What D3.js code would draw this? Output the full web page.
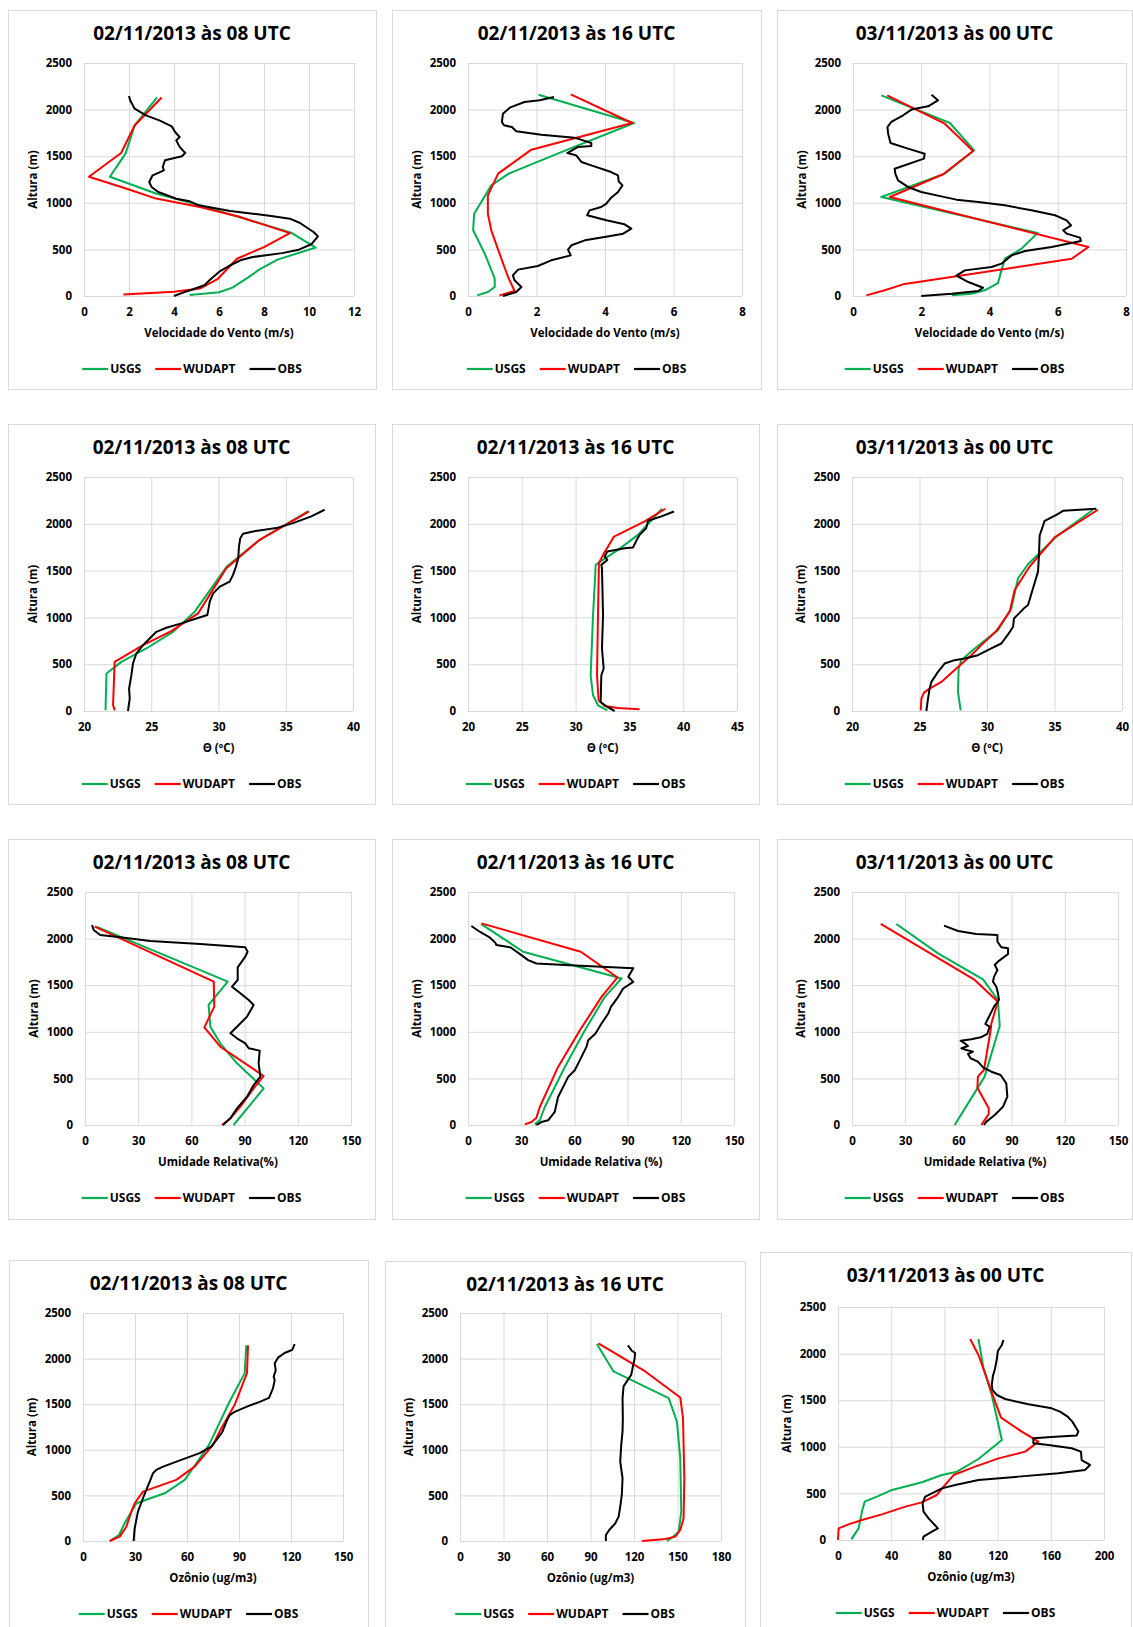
<!DOCTYPE html>
<html>
<head>
<meta charset="utf-8">
<script src="https://cdn.jsdelivr.net/npm/d3@7"></script>
<style>
    body { margin: 0; background: #ffffff; }
    svg text { font-family: "Open Sans", "DejaVu Sans", sans-serif; font-weight: bold; fill: #000; }
</style>
</head>
<body>
<svg id="chart" width="1133" height="1627"></svg>
<script>
// ---- labels / ticks ----
var titles = ["02/11/2013 às 08 UTC", "02/11/2013 às 16 UTC", "03/11/2013 às 00 UTC"];
var seriesNames = ["USGS", "WUDAPT", "OBS"];
var heightTicks = [0, 500, 1000, 1500, 2000, 2500];
var windTicks12 = [0, 2, 4, 6, 8, 10, 12];
var windTicks8 = [0, 2, 4, 6, 8];
var thetaTicks40 = [20, 25, 30, 35, 40];
var thetaTicks45 = [20, 25, 30, 35, 40, 45];
var rhTicks = [0, 30, 60, 90, 120, 150];
var o3Ticks150 = [0, 30, 60, 90, 120, 150];
var o3Ticks180 = [0, 30, 60, 90, 120, 150, 180];
var o3Ticks200 = [0, 40, 80, 120, 160, 200];

// ---- wind speed (m/s), [value, height m] ----
var windUsgs08 = [[4.7,10],[6.0,40],[6.6,90],[7.3,200],[7.8,285],[8.6,390],[10.3,520],[9.2,680],[5.2,970],[3.2,1100],[1.15,1280],[1.85,1530],[2.25,1830],[3.25,2130]];
var windWudapt08 = [[1.75,15],[4.0,45],[5.15,80],[5.95,185],[6.8,400],[8.0,525],[9.15,675],[6.9,850],[5.15,955],[3.2,1045],[1.9,1150],[0.22,1280],[1.65,1535],[2.25,1830],[3.45,2130]];
var windObs08 = [[4.0,0],[4.4,36],[4.85,72],[5.35,115],[5.6,175],[6.05,268],[6.5,330],[6.95,383],[7.5,418],[8.8,460],[9.55,497],[10.1,555],[10.4,640],[10.2,687],[9.6,783],[9.15,830],[8.4,855],[7.5,883],[6.5,912],[5.1,973],[4.7,1016],[4.1,1044],[3.3,1116],[3.0,1170],[2.9,1223],[3.05,1295],[3.55,1348],[3.5,1384],[3.6,1456],[4.35,1500],[4.5,1534],[4.25,1600],[4.1,1670],[4.25,1706],[4.05,1760],[3.9,1820],[3.35,1885],[2.75,1938],[2.25,2010],[2.05,2100],[2.0,2146]];

var windUsgs16 = [[0.27,7],[0.58,43],[0.78,97],[0.78,186],[0.49,454],[0.15,705],[0.18,883],[0.68,1187],[1.19,1313],[2.85,1563],[4.85,1856],[2.06,2160]];
var windWudapt16 = [[0.92,7],[1.36,54],[1.17,204],[0.92,454],[0.68,705],[0.58,883],[0.58,1080],[0.88,1313],[1.85,1570],[4.79,1856],[3.0,2164]];
var windObs16 = [[1.02,0],[1.41,43],[1.56,97],[1.36,168],[1.31,222],[1.46,283],[2.04,322],[2.43,383],[3.0,436],[2.92,497],[3.02,544],[3.41,597],[3.99,633],[4.53,669],[4.77,722],[4.57,769],[4.04,812],[3.48,866],[3.55,919],[3.89,955],[4.04,991],[4.18,1055],[4.38,1116],[4.51,1187],[4.4,1230],[4.38,1295],[4.18,1330],[3.6,1402],[3.31,1438],[3.16,1509],[2.9,1534],[3.21,1599],[3.6,1609],[3.6,1642],[3.11,1699],[2.14,1731],[1.41,1767],[1.28,1813],[1.05,1831],[0.99,1867],[1.02,1956],[1.22,2021],[1.65,2081],[2.09,2100],[2.51,2135]];

var windUsgs00 = [[2.9,7],[3.47,25],[3.86,61],[4.25,139],[4.35,275],[4.45,400],[4.94,508],[5.41,676],[0.83,1062],[2.69,1313],[3.55,1563],[2.84,1856],[0.83,2153]];
var windWudapt00 = [[0.39,7],[0.93,61],[1.47,125],[6.41,400],[6.9,526],[1.08,1062],[2.64,1306],[3.52,1556],[2.69,1849],[1.0,2153]];
var windObs00 = [[2.0,0],[2.89,25],[3.67,54],[3.81,89],[3.38,150],[3.03,218],[3.28,275],[4.06,311],[4.35,347],[4.65,436],[5.04,483],[5.82,526],[6.68,590],[6.65,626],[6.26,669],[6.16,705],[6.39,758],[6.26,812],[5.92,866],[5.23,919],[4.45,973],[3.67,1009],[3.03,1034],[2.59,1069],[2.0,1116],[1.61,1170],[1.32,1241],[1.24,1313],[1.22,1366],[2.08,1474],[2.1,1527],[1.61,1581],[1.1,1642],[1.03,1742],[1.01,1813],[1.12,1867],[1.47,1939],[1.71,2000],[2.2,2035],[2.49,2100],[2.3,2160]];

// ---- potential temperature (ºC) ----
var thetaUsgs08 = [[21.6,7],[21.67,400],[22.78,525],[24.63,668],[26.62,846],[28.23,1061],[30.6,1540],[33.06,1829],[36.65,2132]];
var thetaWudapt08 = [[22.3,7],[22.16,61],[22.28,525],[24.39,704],[26.49,854],[28.48,1043],[30.58,1525],[33.06,1829],[36.73,2132]];
var thetaObs08 = [[23.27,0],[23.4,132],[23.35,239],[23.52,382],[23.64,507],[23.89,614],[24.39,704],[24.88,775],[25.38,846],[26.12,889],[27.24,936],[28.35,989],[29.17,1025],[29.35,1168],[29.6,1257],[30.1,1329],[30.83,1382],[31.08,1454],[31.3,1543],[31.47,1632],[31.52,1757],[31.62,1846],[31.82,1893],[32.57,1918],[34.3,1954],[35.54,2007],[36.9,2079],[37.89,2150]];

var thetaUsgs16 = [[32.95,7],[32.08,61],[31.62,168],[31.4,382],[31.62,1025],[31.87,1561],[32.08,1579],[33.94,1721],[35.8,1882],[38.03,2161]];
var thetaWudapt16 = [[35.95,18],[33.94,32],[32.7,54],[32.14,114],[31.99,382],[32.08,1025],[32.17,1579],[32.55,1668],[33.57,1864],[36.42,2025],[38.34,2161]];
var thetaObs16 = [[33.63,0],[32.95,43],[32.33,96],[32.39,382],[32.61,454],[32.45,668],[32.55,1025],[32.45,1525],[32.39,1561],[32.95,1614],[32.7,1650],[32.95,1704],[33.32,1711],[34.56,1739],[35.33,1746],[35.64,1818],[35.95,1882],[36.57,1954],[36.73,2032],[37.97,2079],[39.14,2132]];

var thetaUsgs00 = [[28.05,7],[27.85,204],[27.9,454],[28.1,543],[29.09,668],[30.81,864],[31.8,1096],[32.3,1418],[33.04,1568],[35.14,1864],[37.85,2150]];
var thetaWudapt00 = [[25.09,7],[25.14,132],[25.33,196],[25.75,239],[26.62,311],[27.85,471],[28.84,596],[29.58,704],[30.69,854],[31.68,1061],[32.05,1293],[33.16,1543],[35.01,1854],[38.22,2150]];
var thetaObs00 = [[25.51,0],[25.63,132],[25.75,239],[25.88,311],[26.37,418],[26.86,507],[27.6,543],[28.35,561],[29.33,596],[30.32,668],[31.06,721],[31.56,818],[31.93,900],[32.0,989],[32.3,1032],[32.79,1104],[33.04,1132],[33.41,1311],[33.78,1489],[33.85,1668],[33.9,1875],[34.27,2032],[35.14,2096],[35.63,2139],[38.1,2161]];

// ---- relative humidity (%) ----
var rhUsgs08 = [[83.8,0],[100.75,393],[85.7,662],[76.3,876],[70.7,1055],[69.7,1288],[80.5,1538],[6.4,2128]];
var rhWudapt08 = [[77.3,0],[82,72],[87.6,197],[95.1,393],[100.75,526],[76.3,840],[67.3,1048],[72.9,1270],[72.6,1538],[5.5,2128]];
var rhObs08 = [[77.8,0],[82,72],[85.7,179],[91.4,304],[95.1,429],[98.9,519],[97.9,662],[98.5,798],[92.3,823],[90.4,876],[85.7,930],[82,984],[86.7,1073],[91.4,1163],[95.1,1288],[92.3,1341],[87.6,1413],[82.9,1484],[86.1,1556],[86.1,1692],[90.4,1806],[91.7,1860],[90.4,1906],[65,1942],[36.8,1974],[19.9,2014],[8.6,2039],[4.9,2093],[3.95,2146]];

var rhUsgs16 = [[37.6,7],[40.5,50],[43.3,193],[54.6,623],[65.9,1017],[77.2,1375],[86.6,1572],[31.1,1859],[7.5,2156]];
var rhWudapt16 = [[32,7],[35.8,32],[38.6,79],[40.5,193],[50.8,623],[63.1,1017],[75.3,1375],[84.3,1583],[63.6,1859],[7.5,2163]];
var rhObs16 = [[38.6,0],[41.4,32],[45.2,50],[48.9,140],[50.8,301],[54.6,444],[56.5,516],[60.2,587],[62.1,659],[64,731],[66.8,838],[67.8,910],[71.9,981],[75.3,1089],[79.1,1196],[80.6,1268],[84.7,1375],[87.5,1465],[93.2,1536],[90.4,1590],[93.2,1683],[54.6,1716],[38.6,1733],[33.9,1769],[30.1,1823],[24.1,1905],[16,1931],[15.4,1956],[12.2,2013],[6.6,2074],[1.9,2135]];

var rhUsgs00 = [[57.9,0],[74.8,519],[83.3,1062],[82.3,1341],[73.9,1563],[48.5,1842],[25,2157]];
var rhWudapt00 = [[72.9,0],[77.1,118],[77.1,179],[70.7,400],[71,519],[74.4,590],[78.2,1019],[78.6,1091],[82.3,1323],[69.2,1556],[16.2,2157]];
var rhObs00 = [[74.4,0],[75.8,36],[80.5,107],[85.2,197],[87.6,304],[87,447],[83.8,537],[78.6,572],[73.9,619],[71,680],[66.9,716],[65.4,762],[68.2,787],[64.5,805],[61.7,823],[65.4,848],[63.5,877],[61.3,905],[67.3,919],[72.6,941],[76.3,977],[77.6,1055],[75.2,1084],[76.3,1127],[78.2,1198],[80.1,1270],[82.9,1341],[82.3,1413],[81.4,1484],[79.5,1538],[80.1,1592],[82,1663],[80.5,1717],[82.3,1753],[88,1835],[88,1896],[84.2,1907],[82,1967],[82,2039],[70.1,2050],[59.8,2082],[51.9,2139]];

// ---- ozone (ug/m3) ----
var o3Usgs08 = [[15.4,0],[20.8,66],[24,194],[27.9,322],[30.8,414],[47.1,523],[58.7,670],[65.4,853],[72.7,1054],[84.6,1530],[93.3,1841],[94.2,2145]];
var o3Wudapt08 = [[15.4,0],[21.2,48],[25,157],[27.9,322],[29.8,414],[34.6,542],[53.8,670],[64.4,816],[75,1054],[78.8,1200],[87.5,1493],[94.6,1841],[95.2,2145]];
var o3Obs08 = [[29.2,0],[29.8,139],[31.7,322],[34.6,469],[36.5,560],[38.5,652],[40.4,743],[42.3,780],[46.2,816],[56.7,890],[67.3,963],[74,1036],[76.9,1105],[80.4,1197],[82.7,1307],[84.6,1380],[87.5,1416],[94.2,1471],[101.9,1526],[107.3,1570],[109.6,1673],[110.6,1764],[110,1801],[111.2,1874],[110.6,1948],[112.5,2010],[116.3,2061],[120.8,2097],[122.1,2160]];

var o3Usgs16 = [[142.7,0],[146.2,37],[150.8,102],[152.6,322],[151.9,908],[149.6,1310],[143.9,1567],[105.9,1859],[94.4,2160]];
var o3Wudapt16 = [[125.5,0],[141.6,22],[148.5,48],[151.9,121],[154.2,249],[154.7,688],[153.8,1347],[151.9,1574],[127.8,1859],[95.5,2167]];
var o3Obs16 = [[100.6,0],[100.6,66],[102.9,121],[107.1,194],[109.4,267],[110.5,377],[111.6,505],[112.1,688],[110.5,871],[111.2,1054],[112.1,1201],[112.3,1347],[112.1,1567],[112.8,1695],[115.1,1750],[118.1,1823],[119,1896],[120.3,1987],[120.8,2061],[118.5,2086],[115.8,2145]];

var o3Usgs00 = [[10,7],[15.5,125],[18,304],[20,411],[29.3,465],[40.6,537],[63.1,619],[78.1,697],[89.4,733],[105.6,869],[123.2,1073],[115.6,1556],[109.4,1842],[105.6,2157]];
var o3Wudapt00 = [[0,0],[0.5,125],[8,168],[18,215],[33,275],[50.6,358],[63.1,404],[74.3,483],[79.4,572],[86.9,697],[103.1,787],[120.7,876],[140.7,948],[150.7,1055],[138.2,1162],[122.6,1313],[118.1,1484],[110.6,1788],[105.6,1985],[99.4,2157]];
var o3Obs00 = [[63.8,0],[64.3,36],[70.6,89],[75.1,125],[68.1,232],[64.3,304],[63.6,393],[65.6,465],[70.6,501],[78.1,554],[88.1,590],[105.6,644],[135.7,680],[165.7,715],[185.7,751],[189.5,805],[183.2,858],[182.7,948],[175.7,984],[158.2,1019],[146.9,1037],[146.9,1091],[163.2,1109],[179.4,1120],[180.7,1163],[176.2,1270],[172.7,1323],[166.9,1377],[160.7,1413],[143.2,1456],[125.7,1513],[119.5,1556],[116.1,1610],[115.6,1663],[116.4,1753],[118.1,1842],[119.5,1949],[120.2,2028],[123.2,2093],[124.4,2146]];

// ---- panels (row by row) ----
var panels = [
    { title: titles[0], xTitle: "Velocidade do Vento (m/s)", xTicks: windTicks12, series: [windUsgs08, windWudapt08, windObs08] },
    { title: titles[1], xTitle: "Velocidade do Vento (m/s)", xTicks: windTicks8, series: [windUsgs16, windWudapt16, windObs16] },
    { title: titles[2], xTitle: "Velocidade do Vento (m/s)", xTicks: windTicks8, series: [windUsgs00, windWudapt00, windObs00] },
    { title: titles[0], xTitle: "Θ (ºC)", xTicks: thetaTicks40, series: [thetaUsgs08, thetaWudapt08, thetaObs08] },
    { title: titles[1], xTitle: "Θ (ºC)", xTicks: thetaTicks45, series: [thetaUsgs16, thetaWudapt16, thetaObs16] },
    { title: titles[2], xTitle: "Θ (ºC)", xTicks: thetaTicks40, series: [thetaUsgs00, thetaWudapt00, thetaObs00] },
    { title: titles[0], xTitle: "Umidade Relativa(%)", xTicks: rhTicks, series: [rhUsgs08, rhWudapt08, rhObs08] },
    { title: titles[1], xTitle: "Umidade Relativa (%)", xTicks: rhTicks, series: [rhUsgs16, rhWudapt16, rhObs16] },
    { title: titles[2], xTitle: "Umidade Relativa (%)", xTicks: rhTicks, series: [rhUsgs00, rhWudapt00, rhObs00] },
    { title: titles[0], xTitle: "Ozônio (ug/m3)", xTicks: o3Ticks150, series: [o3Usgs08, o3Wudapt08, o3Obs08] },
    { title: titles[1], xTitle: "Ozônio (ug/m3)", xTicks: o3Ticks180, series: [o3Usgs16, o3Wudapt16, o3Obs16] },
    { title: titles[2], xTitle: "Ozônio (ug/m3)", xTicks: o3Ticks200, series: [o3Usgs00, o3Wudapt00, o3Obs00] }
];

// box = chart frame, plot = inner plot area : [x, y, w, h]
var layout = [
    { box: [8, 10, 368, 379], plot: [84, 63, 270, 233] },
    { box: [392, 10, 369, 379], plot: [468, 63, 274, 233] },
    { box: [777, 10, 355, 379], plot: [853, 63, 273, 233] },
    { box: [8, 424, 367, 380], plot: [84, 477, 269, 234] },
    { box: [392, 424, 367, 380], plot: [468, 477, 269, 234] },
    { box: [777, 424, 355, 380], plot: [852, 477, 270, 234] },
    { box: [8, 839, 367, 380], plot: [85, 892, 266, 233] },
    { box: [392, 839, 367, 380], plot: [468, 892, 266, 233] },
    { box: [777, 839, 355, 380], plot: [852, 892, 266, 233] },
    { box: [9, 1260, 359, 400], plot: [83, 1313, 260, 228] },
    { box: [385, 1261, 360, 400], plot: [460, 1313, 261, 228] },
    { box: [760, 1252, 371, 400], plot: [838, 1307, 266, 233] }
];

var colors = ["#00b050", "#ff0000", "#000000"];
var gridColor = "#d9d9d9";

var svg = d3.select( "#chart" );

function drawPanel( panel, place ) {
    var bx = place.box, pl = place.plot,
        g = svg.append( "g" ),
        x = d3.scaleLinear().domain( d3.extent( panel.xTicks ) ).range( [pl[0], pl[0] + pl[2]] ),
        y = d3.scaleLinear().domain( [0, 2500] ).range( [pl[1] + pl[3], pl[1]] ),
        cx = bx[0] + bx[2] / 2;

    g.append( "rect" )
        .attr( "x", bx[0] + 0.5 ).attr( "y", bx[1] + 0.5 )
        .attr( "width", bx[2] ).attr( "height", bx[3] )
        .attr( "fill", "#fff" ).attr( "stroke", gridColor );

    // x grid + labels
    var xAxis = g.append( "g" )
        .attr( "transform", "translate(0," + ( pl[1] + pl[3] ) + ")" )
        .call( d3.axisBottom( x ).tickValues( panel.xTicks ).tickSize( -pl[3] ).tickPadding( 12 ).tickFormat( d3.format( "d" ) ) );
    // y grid + labels
    var yAxis = g.append( "g" )
        .attr( "transform", "translate(" + pl[0] + ",0)" )
        .call( d3.axisLeft( y ).tickValues( heightTicks ).tickSize( -pl[2] ).tickPadding( 12 ).tickFormat( d3.format( "d" ) ) );

    [xAxis, yAxis].forEach( function ( ax ) {
        ax.select( ".domain" ).remove();
        ax.attr( "font-family", null ).attr( "font-size", null );
        ax.selectAll( "line" ).attr( "stroke", gridColor );
        ax.selectAll( "text" ).style( "font-size", "11.5px" );
    } );

    var line = d3.line()
        .x( d => x( d[0] ) )
        .y( d => y( d[1] ) );

    panel.series.forEach( function ( s, i ) {
        g.append( "path" )
            .datum( s )
            .attr( "d", line )
            .attr( "fill", "none" )
            .attr( "stroke", colors[i] )
            .attr( "stroke-width", 2 )
            .attr( "stroke-linejoin", "round" );
    } );

    g.append( "text" )
        .attr( "x", cx ).attr( "y", bx[1] + 30 )
        .attr( "text-anchor", "middle" )
        .style( "font-size", "19px" )
        .text( panel.title );

    g.append( "text" )
        .attr( "x", pl[0] + pl[2] / 2 ).attr( "y", pl[1] + pl[3] + 41 )
        .attr( "text-anchor", "middle" )
        .style( "font-size", "11.5px" )
        .text( panel.xTitle );

    g.append( "text" )
        .attr( "transform", "translate(" + ( pl[0] - 51 ) + "," + ( pl[1] + pl[3] / 2 ) + ") rotate(-90)" )
        .attr( "text-anchor", "middle" )
        .attr( "dy", "0.35em" )
        .style( "font-size", "11.5px" )
        .text( "Altura (m)" );

    // legend
    var leg = g.append( "g" ), pos = 0, ly = pl[1] + pl[3] + 73;
    seriesNames.forEach( function ( name, i ) {
        leg.append( "line" )
            .attr( "x1", pos ).attr( "x2", pos + 26 )
            .attr( "y1", ly ).attr( "y2", ly )
            .attr( "stroke", colors[i] ).attr( "stroke-width", 2.2 );
        var t = leg.append( "text" )
            .attr( "x", pos + 28 ).attr( "y", ly )
            .attr( "dy", "0.35em" )
            .style( "font-size", "12px" )
            .text( name );
        pos += 28 + t.node().getComputedTextLength() + 14;
    } );
    pos -= 14;
    leg.attr( "transform", "translate(" + ( cx - pos / 2 ) + ",0)" );
}

panels.forEach( function ( p, i ) {
    drawPanel( p, layout[i] );
} );
</script>
</body>
</html>
